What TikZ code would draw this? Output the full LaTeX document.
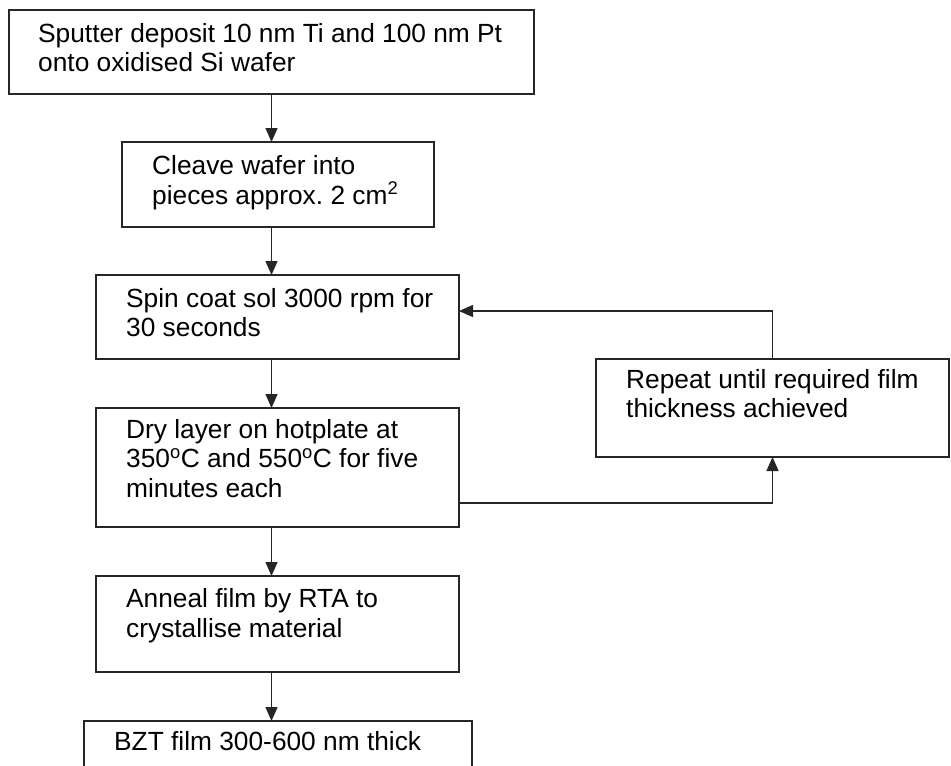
\documentclass[tikz,border=0pt]{standalone}
\usepackage{fontspec}
\setmainfont{Liberation Sans}
\usetikzlibrary{arrows.meta,calc}
\frenchspacing
\begin{document}
\begin{tikzpicture}[x=1pt,y=-1pt,
  box/.style={draw=black!85, line width=1.6pt, inner sep=0pt, outer sep=0pt, anchor=north west},
  txt/.style={anchor=base west, align=left, inner sep=0pt, font=\fontsize{26.3}{29.5}\selectfont},
  arr/.style={draw=black!85, line width=1.4pt, -{Triangle[length=14pt,width=12pt]}}]
\useasboundingbox (0,0) rectangle (951,766);
\clip (0,0) rectangle (951,766);
% boxes
\node[box, minimum width=525pt, minimum height=84pt] (b1) at (9,10) {};
\node[box, minimum width=312pt, minimum height=85pt] (b2) at (122,142) {};
\node[box, minimum width=363pt, minimum height=84pt] (b3) at (96,275) {};
\node[box, minimum width=363pt, minimum height=119pt] (b4) at (96,408) {};
\node[box, minimum width=363pt, minimum height=96pt] (b5) at (96,576) {};
\node[box, minimum width=388pt, minimum height=80pt] (b6) at (84,721) {};
\node[box, minimum width=353pt, minimum height=98pt] (rep) at (596,359) {};
% texts (anchor = baseline of the last line)
\node[txt] (t1) at ($(b1.north west)+(29,61.5)$) {Sputter deposit 10 nm Ti and 100 nm Pt\\onto oxidised Si wafer};
\node[txt] (t2) at ($(b2.north west)+(30,62)$) {Cleave wafer into\\pieces approx. 2 cm\textsuperscript{2}};
\node[txt] (t3) at ($(b3.north west)+(30,61.5)$) {Spin coat sol 3000 rpm for\\30 seconds};
\node[txt] (t4) at ($(b4.north west)+(30,89)$) {Dry layer on hotplate at\\350\textsuperscript{o}C and 550\textsuperscript{o}C for five\\minutes each};
\node[txt] (t5) at ($(b5.north west)+(30,61)$) {Anneal film by RTA to\\crystallise material};
\node[txt] (t6) at ($(b6.north west)+(30,29)$) {BZT film 300-600 nm thick};
\node[txt] (t7) at ($(rep.north west)+(30,58.5)$) {Repeat until required film\\thickness achieved};
% connectors
\coordinate (ax) at (b1.south);
\draw[arr] (b1.south) -- (b2.north -| ax);
\draw[arr] (b2.south -| ax) -- (b3.north -| ax);
\draw[arr] (b3.south -| ax) -- (b4.north -| ax);
\draw[arr] (b4.south -| ax) -- (b5.north -| ax);
\draw[arr] (b5.south -| ax) -- (b6.north -| ax);
\coordinate (loopout) at ($(b4.north east)+(0,95)$);
\coordinate (loopin) at ($(b3.north east)+(0,36)$);
\draw[arr] (loopout) -| (rep.south);
\draw[arr] (rep.north) |- (loopin);
\end{tikzpicture}
\end{document}
